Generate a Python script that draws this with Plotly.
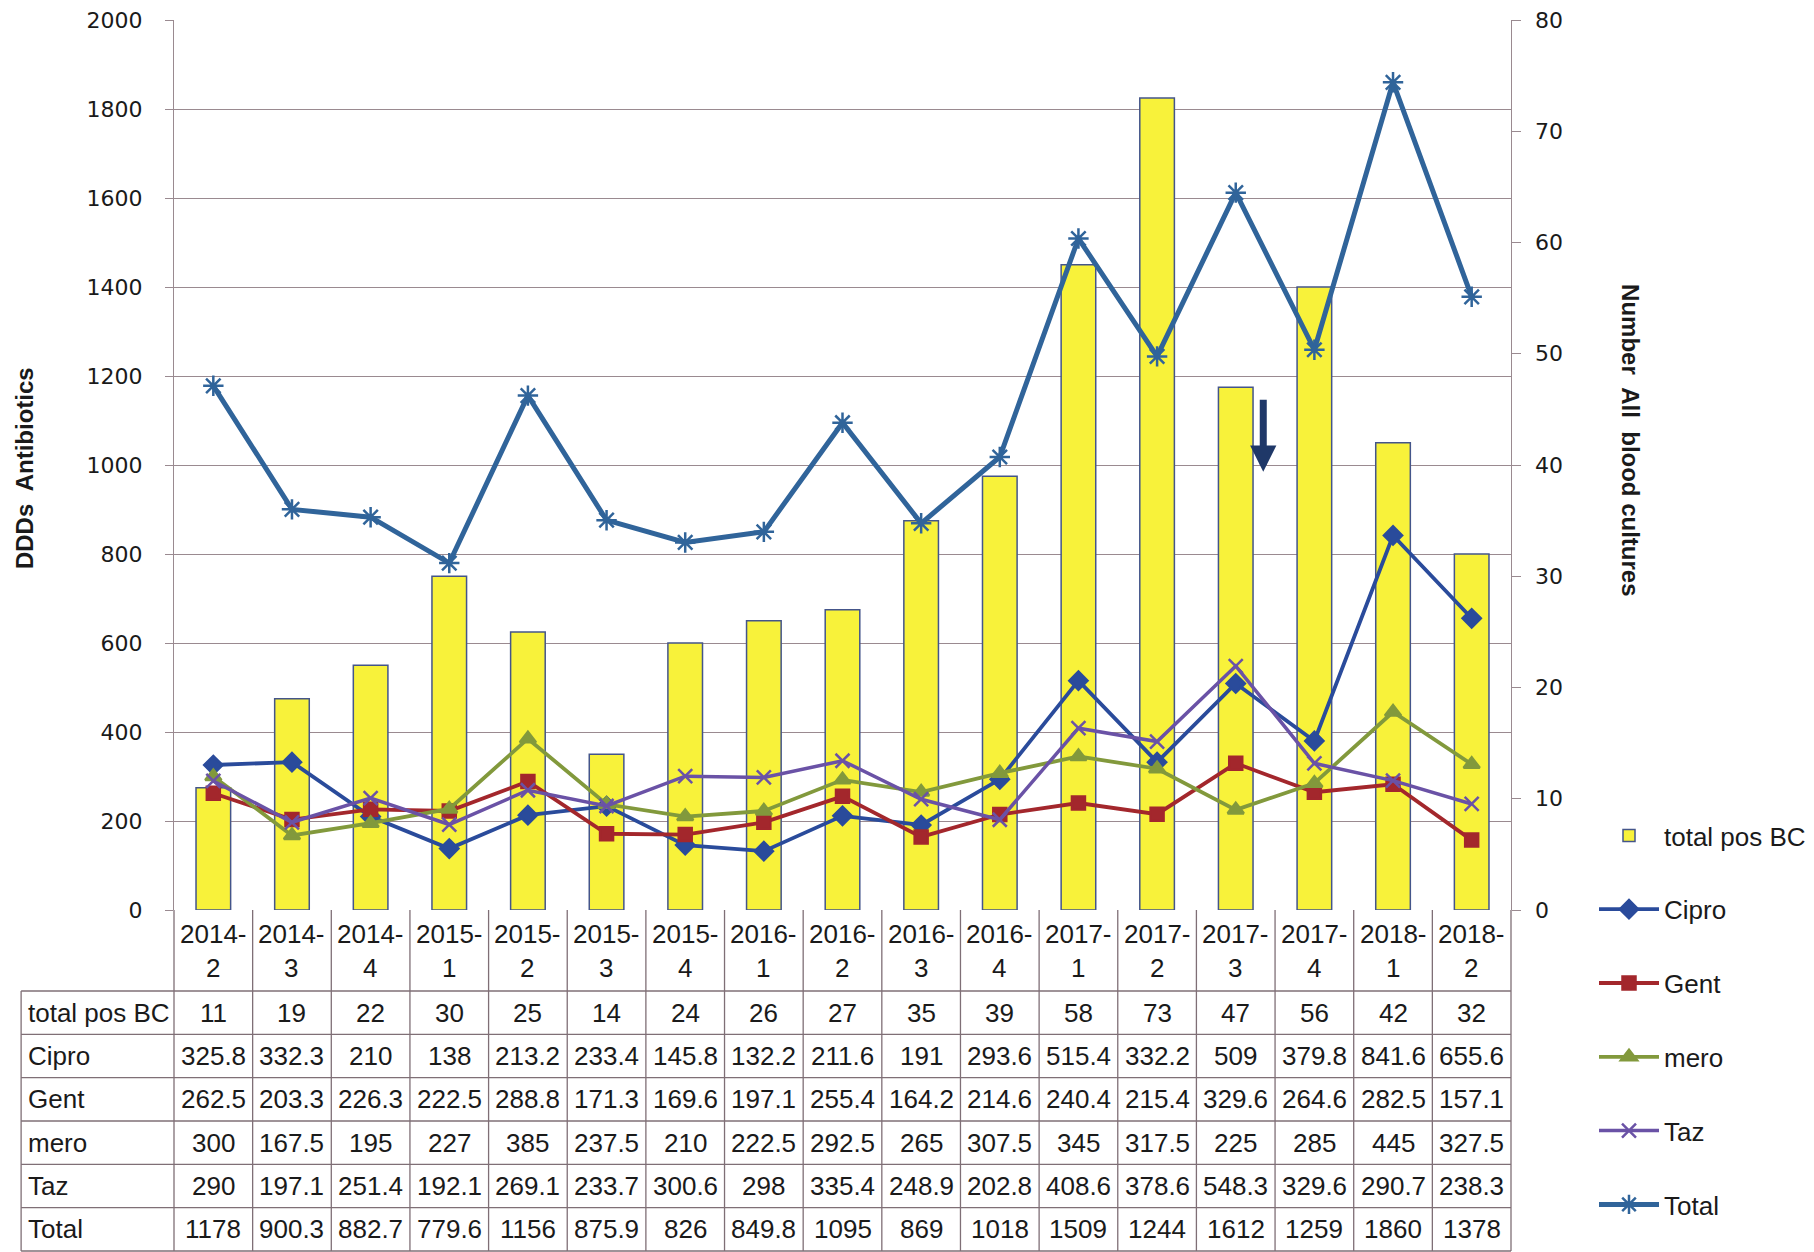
import plotly.graph_objects as go

periods = ["2014-2", "2014-3", "2014-4", "2015-1", "2015-2", "2015-3", "2015-4",
           "2016-1", "2016-2", "2016-3", "2016-4", "2017-1", "2017-2", "2017-3",
           "2017-4", "2018-1", "2018-2"]
total_pos_bc = [11, 19, 22, 30, 25, 14, 24, 26, 27, 35, 39, 58, 73, 47, 56, 42, 32]
cipro = [325.8, 332.3, 210, 138, 213.2, 233.4, 145.8, 132.2, 211.6, 191, 293.6,
         515.4, 332.2, 509, 379.8, 841.6, 655.6]
gent = [262.5, 203.3, 226.3, 222.5, 288.8, 171.3, 169.6, 197.1, 255.4, 164.2, 214.6,
        240.4, 215.4, 329.6, 264.6, 282.5, 157.1]
mero = [300, 167.5, 195, 227, 385, 237.5, 210, 222.5, 292.5, 265, 307.5,
        345, 317.5, 225, 285, 445, 327.5]
taz = [290, 197.1, 251.4, 192.1, 269.1, 233.7, 300.6, 298, 335.4, 248.9, 202.8,
       408.6, 378.6, 548.3, 329.6, 290.7, 238.3]
total = [1178, 900.3, 882.7, 779.6, 1156, 875.9, 826, 849.8, 1095, 869, 1018,
         1509, 1244, 1612, 1259, 1860, 1378]
right_ticks = [0, 10, 20, 30, 40, 50, 60, 70, 80]

# page geometry (px, as seen on the screenshot); the page body adds an 8px offset
OFF = 8
W, H = 1814, 1252
PLOT_L, PLOT_R, PLOT_T, PLOT_B = 174, 1512, 20, 910
TABLE_L = 21
HEAD_B = 991
TABLE_B = 1251
ROW_H = (TABLE_B - HEAD_B) / 6

GRID = "#9A8A90"
TEXT = "#1a1a1a"
TICK_FONT = dict(family="DejaVu Sans", size=22, color=TEXT)
CELL_FONT = dict(family="Liberation Sans", size=26, color=TEXT)
TITLE_FONT = dict(family="Liberation Sans", size=24, color=TEXT)


def px_x(px):
    return (px - PLOT_L) / (PLOT_R - PLOT_L)


def px_y(py):
    return (PLOT_B - py) / (PLOT_B - PLOT_T)


fig = go.Figure()

fig.add_trace(go.Bar(
    x=periods, y=total_pos_bc, name="total pos BC", yaxis="y",
    marker=dict(color="#F8F23A", line=dict(color="#44558A", width=1.5)),
    legendgroup="a",
))

lines = [
    ("Cipro", cipro, "#2A4B9B", "diamond", 14, 3.8),
    ("Gent", gent, "#A3272C", "square", 13, 3.8),
    ("mero", mero, "#82993C", "triangle-up", 14, 3.8),
    ("Taz", taz, "#6A52A6", "x-thin-open", 14, 3.5),
    ("Total", total, "#30649A", "asterisk-open", 17, 5),
]
for name, vals, color, sym, size, lw in lines:
    fig.add_trace(go.Scatter(
        x=periods, y=vals, name=name, yaxis="y2", mode="lines+markers",
        line=dict(color=color, width=lw),
        marker=dict(symbol=sym, size=size, color=color, line=dict(color=color, width=2.5)),
        legendgroup=name,
    ))

shapes = []
annotations = []

# table grid
n = len(periods)
col_w = (PLOT_R - PLOT_L) / n
line_style = dict(color="#7F6F76", width=1.3)
for k in range(7):
    y = HEAD_B + k * ROW_H
    shapes.append(dict(type="line", xref="paper", yref="paper",
                       x0=px_x(TABLE_L), x1=px_x(PLOT_R), y0=px_y(y), y1=px_y(y),
                       line=line_style))
shapes.append(dict(type="line", xref="paper", yref="paper",
                   x0=px_x(TABLE_L), x1=px_x(TABLE_L), y0=px_y(HEAD_B), y1=px_y(TABLE_B),
                   line=line_style))
for i in range(n + 1):
    x = PLOT_L + i * col_w
    shapes.append(dict(type="line", xref="paper", yref="paper",
                       x0=px_x(x), x1=px_x(x), y0=px_y(PLOT_B), y1=px_y(TABLE_B),
                       line=line_style))

# header labels
for i, p in enumerate(periods):
    yr, q = p.split("-")
    annotations.append(dict(xref="paper", yref="paper", x=px_x(PLOT_L + (i + 0.5) * col_w),
                            y=px_y((PLOT_B + HEAD_B) / 2), xanchor="center", yanchor="middle",
                            text=f"{yr}-<br>{q}", showarrow=False, font=CELL_FONT,
                            align="center"))

table_rows = [("total pos BC", total_pos_bc), ("Cipro", cipro), ("Gent", gent),
              ("mero", mero), ("Taz", taz), ("Total", total)]
for r, (label, vals) in enumerate(table_rows):
    yc = px_y(HEAD_B + (r + 0.5) * ROW_H)
    annotations.append(dict(xref="paper", yref="paper", x=px_x(TABLE_L + 5), y=yc,
                            xanchor="left", yanchor="middle", text=label, showarrow=False,
                            font=CELL_FONT))
    for i, v in enumerate(vals):
        annotations.append(dict(xref="paper", yref="paper", x=px_x(PLOT_L + (i + 0.5) * col_w),
                                y=yc, xanchor="center", yanchor="middle", text=f"{v:g}",
                                showarrow=False, font=CELL_FONT))

# right axis labels, set a little further from the axis
for t in right_ticks:
    annotations.append(dict(xref="paper", yref="y", x=px_x(1534), y=t, xanchor="left",
                            yanchor="middle", text=str(t), showarrow=False, font=TICK_FONT))

# axis titles
annotations.append(dict(xref="paper", yref="paper", x=px_x(24), y=px_y(468),
                        xanchor="center", yanchor="middle",
                        text="<b>DDDs  Antibiotics</b>", textangle=-90, showarrow=False,
                        font=TITLE_FONT))
annotations.append(dict(xref="paper", yref="paper", x=px_x(1632), y=px_y(440),
                        xanchor="center", yanchor="middle",
                        text="<b>Number  All  blood cultures</b>", textangle=90, showarrow=False,
                        font=TITLE_FONT))

# arrow drawn on the chart
annotations.append(dict(xref="x", yref="y2", axref="x", ayref="y2",
                        x=13.35, y=985, ax=13.35, ay=1150, text="", showarrow=True,
                        arrowhead=2, arrowsize=0.75, arrowwidth=7, arrowcolor="#1F3868"))

fig.update_layout(
    width=W, height=H,
    margin=dict(l=PLOT_L - OFF, r=W - PLOT_R + OFF, t=PLOT_T - OFF, b=H - PLOT_B + OFF),
    paper_bgcolor="white", plot_bgcolor="white",
    bargap=0.56,
    showlegend=True,
    legend=dict(x=px_x(1594), y=px_y(812), xanchor="left", yanchor="top",
                font=CELL_FONT, traceorder="grouped", tracegroupgap=37, itemwidth=60,
                bgcolor="rgba(0,0,0,0)"),
    xaxis=dict(type="category", range=[-0.5, n - 0.5], showticklabels=False,
               ticks="", showgrid=False, showline=False, zeroline=False, automargin=False),
    yaxis=dict(side="right", range=[0, 80], tickvals=right_ticks, showgrid=False,
               zeroline=False, showline=True, linecolor=GRID, linewidth=1.3,
               ticks="outside", ticklen=9, tickwidth=1.3, tickcolor=GRID,
               showticklabels=False, automargin=False),
    yaxis2=dict(overlaying="y", side="left", range=[0, 2000], dtick=200,
                showgrid=True, gridcolor=GRID, gridwidth=1.2, zeroline=False,
                showline=True, linecolor=GRID, linewidth=1.3, ticks="outside", ticklen=8,
                tickcolor=GRID, tickfont=TICK_FONT, ticklabelstandoff=18, automargin=False,
                ticklabeloverflow="allow"),
    shapes=shapes,
    annotations=annotations,
)

fig.write_html("out.html")
